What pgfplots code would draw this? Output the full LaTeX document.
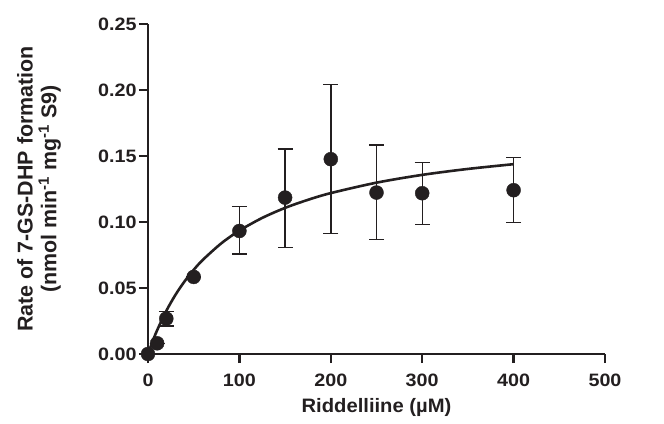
\documentclass[border=0pt]{standalone}
\usepackage{pgfplots}
\pgfplotsset{compat=1.18}
\usepackage{fontspec}
\setmainfont{Liberation Sans}
\newfontfamily\tickfont[FakeStretch=1.1]{Liberation Sans}
\newfontfamily\labfont[FakeStretch=1.04]{Liberation Sans}
\definecolor{ink}{HTML}{231F20}
\begin{document}
\begin{tikzpicture}
\path[use as bounding box] (0,0) rectangle (664bp,424bp);
\begin{axis}[
  at={(148bp,70bp)}, anchor=south west,
  width=457bp, height=330bp, scale only axis,
  xmin=0, xmax=500, ymin=0, ymax=0.25,
  axis lines=left, axis line style={-, line width=2.6bp, ink},
  xtick={0,100,...,500}, ytick={0,0.05,...,0.25},
  tick align=outside, major tick length=9bp,
  tick style={line width=2.4bp, ink},
  /pgf/number format/assume math mode=true,
  yticklabel style={/pgf/number format/.cd, fixed, fixed zerofill, precision=2, /tikz/.cd, font=\tickfont\fontsize{18}{20}\selectfont\bfseries, text=ink, xshift=1bp},
  xticklabel style={font=\tickfont\fontsize{18}{20}\selectfont\bfseries, text=ink, yshift=-7bp},
  scaled y ticks=false,
  xlabel={Riddelliine (µM)},
  xlabel style={font=\labfont\fontsize{19.5}{21}\selectfont\bfseries, text=ink, yshift=-5bp},
  ylabel={\begin{tabular}{c}Rate of 7-GS-DHP formation\\[-1bp](nmol min\textsuperscript{-1} mg\textsuperscript{-1} S9)\end{tabular}},
  ylabel style={font=\fontsize{21.5}{23}\selectfont\bfseries, text=ink, yshift=28bp},
  clip=false,
]
\addplot[ink, line width=2.6bp, smooth] coordinates {
(0,0) (5,0.00948) (10,0.01799) (20,0.03263) (30,0.04477) (40,0.05501)
(50,0.06376) (60,0.07132) (80,0.08373) (100,0.09349) (125,0.1031)
(150,0.1107) (175,0.1168) (200,0.1219) (250,0.1298) (300,0.1357)
(350,0.1402) (400,0.1438)};
\addplot[only marks, mark=*, mark size=7bp, ink, mark options={fill=ink, draw=ink},
  error bars/.cd, y dir=both, y explicit,
  error bar style={line width=1.4bp, ink},
  error mark options={rotate=90, mark size=7.5bp, line width=1.4bp, ink}]
  coordinates {
(0,0) +- (0,0)
(10,0.0081) +- (0,0)
(20,0.0268) += (0,0.0052) -= (0,0.0056)
(50,0.0584) +- (0,0)
(100,0.0932) += (0,0.0185) -= (0,0.0174)
(150,0.1185) += (0,0.0369) -= (0,0.0376)
(200,0.1476) += (0,0.0565) -= (0,0.0564)
(250,0.1223) += (0,0.0359) -= (0,0.0357)
(300,0.1218) += (0,0.0235) -= (0,0.0238)
(400,0.1241) += (0,0.0247) -= (0,0.0246)
};
\end{axis}
\end{tikzpicture}
\end{document}
